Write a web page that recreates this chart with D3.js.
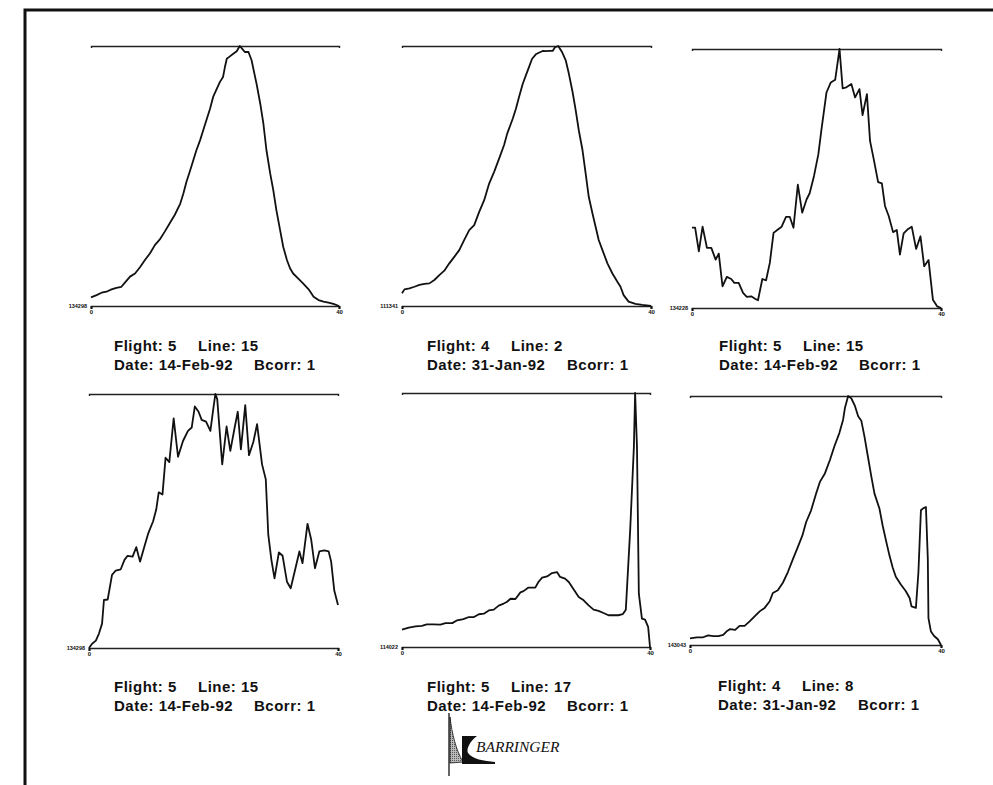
<!DOCTYPE html>
<html>
<head>
<meta charset="utf-8">
<script src="https://cdn.jsdelivr.net/npm/d3@7"></script>
<style>
  body { margin: 0; background: #fff; }
  svg { display: block; }
  .info { font-family: "Liberation Sans", Arial, sans-serif; font-weight: bold; font-size: 15px; letter-spacing: 0.5px; fill: #111; }
  .tiny text { font-family: "Liberation Sans", Arial, sans-serif; font-weight: bold; fill: #111; }
</style>
</head>
<body>
<script>
// readings off the profiles: [sample, relative response]
var trace1 = [[0,3.3],[0.9,4.2],[1.7,5.1],[2.5,5.5],[3.3,6.4],[4.1,7.0],[4.9,7.4],[5.5,9.1],[6.3,11.3],[7.1,12.5],[7.9,14.9],[8.7,17.7],[9.5,20.2],[10.3,23.4],[11.1,25.6],[11.9,28.6],[12.7,31.8],[13.5,35.0],[14.4,39.4],[14.9,43.3],[15.4,47.8],[16.0,52.2],[16.5,56.1],[17.0,59.9],[17.6,63.8],[18.1,67.6],[18.7,72.1],[19.2,75.9],[19.7,80.4],[20.3,83.6],[20.8,86.2],[21.3,88.1],[21.6,91.9],[21.9,95.1],[22.4,96.0],[23.0,97.1],[23.5,98.0],[24.0,100],[24.5,98.6],[24.8,97.7],[25.4,97.7],[25.9,94.5],[26.7,85.5],[27.3,77.8],[27.8,70.2],[28.3,59.9],[28.9,51.0],[29.4,44.6],[29.9,36.9],[30.5,29.2],[31.0,22.8],[31.6,17.7],[32.1,14.5],[32.6,12.5],[33.4,10.6],[34.2,8.7],[35.1,6.4],[35.9,3.6],[36.7,2.3],[37.5,1.7],[38.3,1.3],[39.1,0.8],[40,0]];
var trace2 = [[0,4.9],[0.4,6.4],[1.2,6.8],[2.0,7.4],[2.8,8.1],[3.6,8.5],[4.4,8.7],[5.2,10.0],[6.0,11.9],[6.8,13.6],[7.6,16.4],[8.4,18.9],[9.2,21.5],[10.0,25.4],[10.8,29.2],[11.6,31.1],[12.4,36.2],[13.2,40.7],[14.0,47.1],[14.8,51.6],[15.6,56.7],[16.4,61.9],[16.9,66.3],[17.8,72.1],[18.3,75.9],[18.8,80.4],[19.4,85.5],[19.9,88.7],[20.4,91.9],[20.9,95.1],[21.5,96.8],[21.9,97.3],[22.6,98.1],[23.1,98.0],[23.6,98.1],[24.2,98.1],[24.6,99.6],[25.1,100],[25.7,97.7],[26.3,94.5],[26.8,89.4],[27.4,82.3],[27.9,75.3],[28.4,67.6],[29.0,59.9],[29.5,51.0],[30.0,42.0],[30.6,35.6],[31.1,30.5],[31.6,25.4],[32.2,21.5],[33.0,16.4],[33.8,12.5],[34.6,9.3],[35.1,7.4],[35.6,4.2],[36.4,1.7],[37.5,0.8],[38.6,0.4],[40,0]];
var trace3 = [[0,31.0],[0.5,31.0],[1.1,21.9],[1.7,31.4],[2.4,23.2],[3.1,23.2],[3.8,18.7],[4.3,21.0],[4.9,8.4],[5.6,12.0],[6.3,11.2],[6.8,9.7],[7.5,9.7],[8.2,5.8],[8.8,4.3],[9.5,4.5],[10.2,3.5],[10.6,3.0],[11.3,11.2],[11.9,10.7],[12.5,17.4],[13.1,29.0],[13.8,30.3],[14.4,31.4],[15.1,35.2],[15.7,35.2],[16.3,31.0],[17.0,47.6],[17.7,36.8],[18.4,41.9],[18.9,44.3],[19.6,51.0],[20.3,59.4],[20.8,69.0],[21.6,83.2],[22.3,87.1],[23.0,88.1],[23.7,100],[24.2,84.8],[24.8,85.2],[25.6,86.5],[26.2,81.3],[26.9,84.5],[27.4,74.5],[28.1,82.6],[28.6,64.5],[29.2,57.4],[29.9,48.6],[30.5,48.1],[31.0,39.4],[31.6,35.5],[32.3,29.3],[32.9,30.1],[33.4,20.6],[34.0,28.8],[34.6,30.3],[35.3,31.4],[36.0,22.8],[36.7,27.7],[37.3,16.1],[38.0,18.5],[38.7,3.2],[39.4,0.6],[40,0]];
var trace4 = [[0,0],[0.5,1.7],[1.1,2.9],[1.6,5.7],[2.1,9.6],[2.4,18.9],[3.0,19.1],[3.7,28.8],[4.3,30.5],[5.1,31.0],[5.7,34.7],[6.2,36.3],[7.0,36.0],[7.6,39.7],[8.2,34.0],[8.9,40.0],[9.5,45.0],[10.3,49.9],[10.8,54.5],[11.2,61.3],[11.8,60.4],[12.3,74.9],[12.9,73.2],[13.6,90.4],[14.3,75.3],[15.1,81.5],[15.9,85.5],[16.5,86.8],[17.0,95.1],[17.6,93.0],[18.1,89.8],[18.8,89.1],[19.5,85.5],[20.0,94.7],[20.3,100],[20.6,98.0],[21.4,72.3],[22.1,87.2],[22.7,77.6],[23.4,86.8],[23.9,93.0],[24.4,78.2],[25.1,95.6],[25.7,75.9],[26.4,81.1],[27.0,88.1],[27.8,72.3],[28.4,66.4],[28.8,44.6],[29.3,34.7],[29.8,27.4],[30.5,37.6],[31.1,36.3],[31.8,26.1],[32.4,23.5],[33.1,30.7],[33.8,38.0],[34.3,33.4],[35.1,48.9],[35.7,42.6],[36.3,31.4],[37.0,38.0],[37.8,38.4],[38.5,38.0],[38.9,34.0],[39.4,22.6],[40,16.9]];
var trace5 = [[0,6.8],[1.1,7.6],[2.2,8.1],[3.2,8.3],[4.0,8.9],[5.1,8.9],[6.2,8.8],[7.0,9.4],[8.1,9.4],[8.9,10.5],[9.9,11.0],[10.8,11.8],[11.6,11.8],[12.4,12.9],[13.2,13.1],[14.0,14.4],[14.8,14.7],[15.6,16.3],[16.4,17.1],[16.9,17.7],[17.5,19.0],[18.3,18.9],[19.1,21.5],[19.6,22.0],[20.4,23.4],[21.5,23.4],[22.0,25.6],[22.6,27.3],[23.4,27.8],[24.2,29.1],[25.0,29.5],[25.5,27.6],[26.3,26.9],[26.9,25.6],[27.7,22.6],[28.5,19.7],[29.3,18.4],[30.1,16.4],[30.9,14.7],[31.7,14.2],[32.5,13.4],[33.3,12.5],[34.1,12.5],[34.9,12.5],[35.6,12.9],[36.1,14.7],[36.8,45.9],[37.4,78.7],[37.6,100],[37.9,78.7],[38.2,21.0],[38.7,11.2],[39.2,10.8],[39.7,7.9],[40,0]];
var trace6 = [[0,2.7],[1.1,3.1],[2.1,3.1],[2.9,3.9],[3.7,3.6],[4.5,3.6],[5.3,4.1],[5.8,5.4],[6.4,6.4],[7.2,6.1],[7.9,7.7],[8.7,7.7],[9.5,9.5],[10.3,11.5],[11.1,13.5],[11.9,14.9],[12.7,17.6],[13.2,20.9],[14.0,22.0],[14.8,25.0],[15.6,29.3],[16.4,34.5],[17.1,38.8],[17.9,43.9],[18.5,49.3],[19.3,54.1],[20.1,60.8],[20.7,65.5],[21.5,68.9],[22.3,74.3],[23.0,79.7],[23.8,85.1],[24.4,90.5],[24.7,95.3],[25.2,100],[25.7,99.1],[26.3,95.9],[26.8,91.9],[27.3,90.1],[27.8,83.8],[28.3,76.4],[28.9,67.6],[29.4,60.8],[30.2,54.7],[30.7,48.0],[31.3,41.2],[31.8,35.8],[32.3,31.1],[32.8,27.4],[33.6,24.3],[34.4,21.6],[35.0,18.9],[35.3,15.5],[36.0,14.9],[36.4,29.1],[36.8,54.1],[37.2,55.0],[37.6,55.4],[37.9,34.5],[38.0,10.8],[38.4,5.4],[38.9,3.6],[39.5,2.3],[40,0]];

var flights = ["5", "4", "5", "5", "5", "4"];
var lineNums = ["15", "2", "15", "15", "17", "8"];
var dates = ["14-Feb-92", "31-Jan-92", "14-Feb-92", "14-Feb-92", "14-Feb-92", "31-Jan-92"];
var bcorrs = ["1", "1", "1", "1", "1", "1"];
var baseLabels = ["134298", "111341", "134228", "134298", "114022", "143043"];
var xTicks = [0, 40];

var traces = [trace1, trace2, trace3, trace4, trace5, trace6];

// where each small plot sits on the page
var layout = [
  {left: 91, right: 339, top: 46, bottom: 306, tx: 114, ty: 351},
  {left: 402, right: 651, top: 46, bottom: 306, tx: 427, ty: 351},
  {left: 692, right: 941, top: 49, bottom: 308, tx: 719, ty: 351},
  {left: 89, right: 338, top: 394, bottom: 648, tx: 114, ty: 692},
  {left: 402, right: 650, top: 393, bottom: 647, tx: 427, ty: 692},
  {left: 690, right: 941, top: 396, bottom: 645, tx: 718, ty: 691}
];

var svg = d3.select("body")
  .append("svg")
  .attr("width", 993)
  .attr("height", 785);

// page frame (left and top edges only)
svg.append("path")
  .attr("d", "M25,785V10H993")
  .attr("fill", "none")
  .attr("stroke", "#111")
  .attr("stroke-width", 3);

traces.forEach(function(trace, i) {
  var box = layout[i];

  var x = d3.scaleLinear().domain(xTicks).range([box.left, box.right]);
  var y = d3.scaleLinear()
    .domain(d3.extent(trace, d => d[1]))
    .range([box.bottom, box.top]);

  var g = svg.append("g");

  // top reference line with small hooks
  var topAxis = g.append("g")
    .attr("transform", `translate(0, ${box.top})`)
    .call(d3.axisBottom(x).tickValues([]).tickSizeOuter(2));
  topAxis.select(".domain").attr("stroke", "#222").attr("stroke-width", 1.4);

  // bottom axis, only the two end ticks
  var bottomAxis = g.append("g")
    .attr("class", "tiny")
    .attr("transform", `translate(0, ${box.bottom})`)
    .call(d3.axisBottom(x).tickValues(xTicks).tickSize(3).tickSizeOuter(3).tickPadding(1).tickFormat(d3.format("d")));
  bottomAxis.select(".domain").attr("stroke", "#222").attr("stroke-width", 1.4);
  bottomAxis.selectAll(".tick line").attr("stroke", "#111").attr("stroke-width", 2);
  bottomAxis.selectAll("text").attr("font-size", 6);

  // base value label at the left end
  var leftAxis = g.append("g")
    .attr("class", "tiny")
    .attr("transform", `translate(${box.left}, 0)`)
    .call(d3.axisLeft(y).tickValues([y.domain()[0]]).tickSize(0).tickPadding(4).tickFormat(() => baseLabels[i]));
  leftAxis.select(".domain").remove();
  leftAxis.selectAll("text").attr("font-size", 5.5);

  // profile
  var line = d3.line()
    .x(d => x(d[0]))
    .y(d => y(d[1]));

  g.append("path")
    .datum(trace)
    .attr("d", line)
    .attr("fill", "none")
    .attr("stroke", "#111")
    .attr("stroke-width", 1.8)
    .attr("stroke-linejoin", "round");

  // caption
  var row1 = g.append("text").attr("class", "info").attr("y", box.ty);
  row1.append("tspan").attr("x", box.tx).text("Flight: " + flights[i]);
  row1.append("tspan").attr("x", box.tx + 84).text("Line: " + lineNums[i]);

  var row2 = g.append("text").attr("class", "info").attr("y", box.ty + 19);
  row2.append("tspan").attr("x", box.tx).text("Date: " + dates[i]);
  row2.append("tspan").attr("x", box.tx + 140).text("Bcorr: " + bcorrs[i]);
});

// company mark
var logo = svg.append("g");

var dots = svg.append("defs").append("pattern")
  .attr("id", "stip")
  .attr("width", 2)
  .attr("height", 2)
  .attr("patternUnits", "userSpaceOnUse");
dots.append("rect").attr("width", 2).attr("height", 2).attr("fill", "#bbb");
dots.append("rect").attr("width", 1).attr("height", 1).attr("fill", "#555");

logo.append("path")
  .attr("d", "M450,717 C452,734 456,750 463,762 L450,763 Z")
  .attr("fill", "url(#stip)")
  .attr("stroke", "#111")
  .attr("stroke-width", 0.8);

logo.append("line")
  .attr("x1", 449).attr("x2", 449)
  .attr("y1", 713).attr("y2", 776)
  .attr("stroke", "#111")
  .attr("stroke-width", 1.3);

logo.append("path")
  .attr("d", "M462,736 H477 C470,741 466,749 468,753 C472,759 484,761 495,762 V764 H462 Z")
  .attr("fill", "#111");

logo.append("text")
  .attr("x", 476)
  .attr("y", 752)
  .attr("font-family", "'Liberation Serif', 'Times New Roman', serif")
  .attr("font-style", "italic")
  .attr("font-size", 15.5)
  .attr("fill", "#111")
  .text("BARRINGER");
</script>
</body>
</html>
